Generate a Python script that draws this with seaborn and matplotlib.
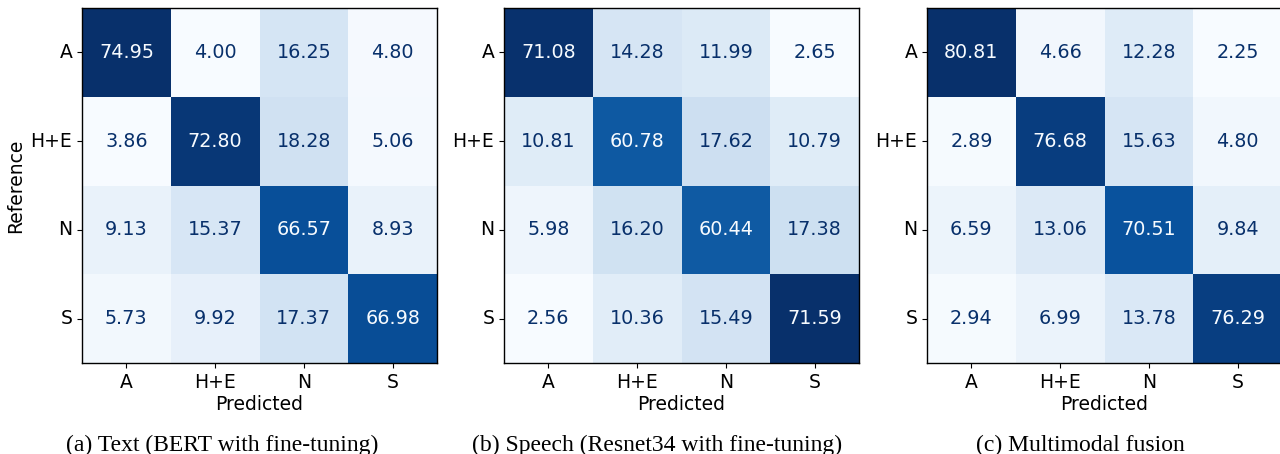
import numpy as np
import pandas as pd
import seaborn as sns
import matplotlib as mpl
import matplotlib.pyplot as plt

labels = ['A', 'H+E', 'N', 'S']

text_cm = [[74.95, 4.00, 16.25, 4.80],
           [3.86, 72.80, 18.28, 5.06],
           [9.13, 15.37, 66.57, 8.93],
           [5.73, 9.92, 17.37, 66.98]]

speech_cm = [[71.08, 14.28, 11.99, 2.65],
             [10.81, 60.78, 17.62, 10.79],
             [5.98, 16.20, 60.44, 17.38],
             [2.56, 10.36, 15.49, 71.59]]

fusion_cm = [[80.81, 4.66, 12.28, 2.25],
             [2.89, 76.68, 15.63, 4.80],
             [6.59, 13.06, 70.51, 9.84],
             [2.94, 6.99, 13.78, 76.29]]

captions = ['(a) Text (BERT with fine-tuning)',
            '(b) Speech (Resnet34 with fine-tuning)',
            '(c) Multimodal fusion']

mpl.rc('font', family='DejaVu Sans', size=13.5)

W, H = 1280, 454
fig = plt.figure(figsize=(W / 100, H / 100), dpi=100)

cmap = plt.get_cmap('Blues')
lefts = [82, 504, 927]
cap_x = [222, 657, 1080]
size = 355
bottom = H - 363

for i, cm in enumerate([text_cm, speech_cm, fusion_cm]):
    ax = fig.add_axes([lefts[i] / W, bottom / H, size / W, size / H])
    df = pd.DataFrame(cm, index=labels, columns=labels)
    sns.heatmap(df, ax=ax, cmap=cmap, annot=True, fmt='.2f', cbar=False,
                square=False, annot_kws={'fontsize': 13.8})
    vals = np.array(cm)
    thresh = (vals.max() + vals.min()) / 2
    # sklearn-style text colours: light text on dark cells, dark on light
    for t, v in zip(ax.texts, vals.flatten()):
        t.set_color(cmap(0.0) if v > thresh else cmap(1.0))
    for s in ax.spines.values():
        s.set_visible(True)
        s.set_linewidth(1.0)
        s.set_color('black')
    ax.tick_params(axis='both', length=3.5, width=0.8, labelsize=13.5)
    ax.set_yticklabels(labels, rotation=0)
    ax.set_xticklabels(labels, rotation=0)
    ax.set_xlabel('Predicted', fontsize=13.5, labelpad=2.5)
    if i == 0:
        ax.set_ylabel('Reference', fontsize=13.5)
    else:
        ax.set_ylabel('')
    fig.text(cap_x[i] / W, 3 / H, captions[i], ha='center', va='baseline',
             family='Liberation Serif', fontsize=17)

fig.savefig('out.png', dpi=100)
